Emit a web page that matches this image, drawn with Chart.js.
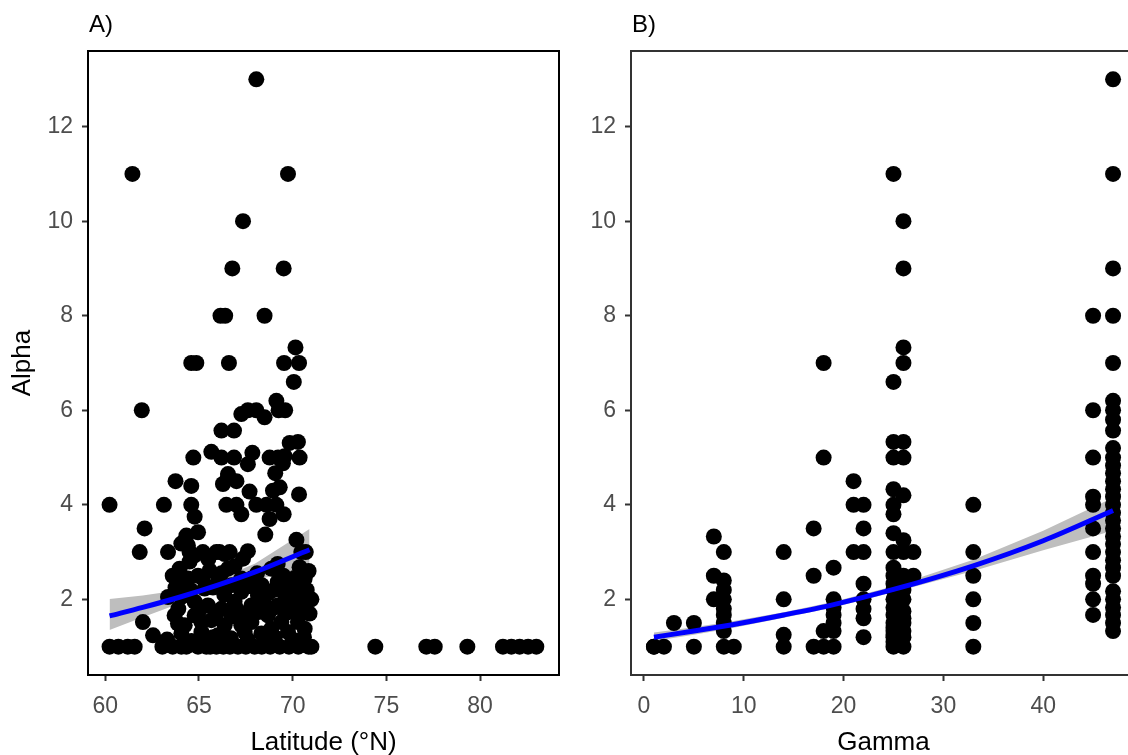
<!DOCTYPE html>
<html lang="en">
<head>
  <meta charset="UTF-8" />
  <title>Alpha vs Latitude and Gamma</title>
  <script src="https://cdn.jsdelivr.net/npm/chart.js"></script>
  <style>
    html, body { margin: 0; padding: 0; background: #fff; overflow: hidden; }
    body { width: 1128px; height: 755px; position: relative; }
    .panel { position: absolute; top: 0; }
    #panelA { left: 0; }
    #panelB { left: 570px; }
  </style>
</head>
<body>
  <canvas id="panelA" class="panel" width="570" height="760"></canvas>
  <canvas id="panelB" class="panel" width="590" height="760"></canvas>

  <script>
    // ---- data ----
    const alphaTicks = [2, 4, 6, 8, 10, 12];
    const latTicks = [60, 65, 70, 75, 80];
    const gammaTicks = [0, 10, 20, 30, 40];

    // panel A: [latitude, alpha]
    const latAlpha = [
      [68.06,13],[61.45,11],[69.75,11],[67.35,10],[66.78,9],[69.52,9],[66.15,8],[66.4,8],[68.5,8],[70.15,7.33],
      [64.59,7],[64.86,7],[66.6,7],[69.54,7],[70.34,7],[70.06,6.6],
      [61.95,6],[69.13,6.2],[69.25,6],[69.6,6],[67.26,5.92],[67.61,6],[68.06,6],[68.5,5.85],
      [66.2,5.57],[66.87,5.57],[69.84,5.31],[70.28,5.33],[65.66,5.12],[64.7,5],[66.2,5],[66.87,5],
      [67.85,5.1],[67.61,4.86],[68.77,5],[69.22,5],[69.57,5.03],[70.37,5],
      [69.48,4.88],[69.07,4.67],[66.55,4.65],[63.75,4.5],[64.59,4.4],[66.28,4.44],[66.55,4.6],[67.0,4.5],
      [67.7,4.28],[68.95,4.3],[69.31,4.37],[70.34,4.22],
      [60.23,4],[63.13,4],[64.59,4],[66.46,4],[67.0,4],[68.06,4],[68.6,4],[69.13,4],
      [67.26,3.8],[68.77,3.7],[69.52,3.8],[64.77,3.75],[62.1,3.5],[64.95,3.42],[64.33,3.35],[68.54,3.37],
      [64.06,3.18],[70.2,3.26],
      [61.84,3],[63.35,3],[64.5,3],[65.21,3],[65.93,3],[66.1,3],[66.64,3],[67.61,3.02],[67.35,2.86],
      [70.7,3],[70.46,3],[64.77,2.93],[66.37,2.96],[64.41,3.14],
      [62.01,1.52],[62.55,1.24],
      [60.23,1],[60.7,1],[61.2,1],[61.57,1],[63.05,1],[63.6,1],[64.06,1],[64.33,1],[64.95,1],[65.39,1],
      [65.93,1],[66.3,1],[67.08,1],[67.97,1],[68.8,1],[69.31,1],[69.8,1],[70.3,1],[70.85,1],
      [65.6,1],[66.65,1],[67.5,1],[68.35,1],
      [74.41,1],[77.13,1],[77.58,1],[79.32,1],[81.22,1],[81.67,1],[82.11,1],[82.56,1],[83.0,1],
      [63.97,2.65],[64.41,2.44],[65.57,2.61],[66.55,2.65],[68.86,2.65],[70.37,2.68],[70.64,2.44],
      [70.28,2.19],[70.64,1.98],[63.35,2.05],[64.06,2.05],[69.57,2.12],[68.68,2.12],[68.15,2.08],
      [67.26,2.16],[67.44,2.26],
      [63.88,1.49],[64.24,1.45],[64.77,1.66],[65.66,1.56],[66.73,1.63],[67.26,1.45],[68.15,1.73],
      [68.68,1.66],[69.4,1.52],[70.1,1.73],[69.75,1.31],[70.64,1.38],[68.33,1.28],[67.44,1.31],
      [66.01,1.24],[65.13,1.31],[64.06,1.28],
      [64.24,2.37],[64.95,2.5],[65.3,2.23],[66.01,2.37],[64.77,1.95],[65.48,1.87],[66.2,1.8],[66.9,1.95],
      [67.8,1.87],[68.5,1.87],[69.2,1.87],[69.93,1.95],[71.0,2.0],[65.13,1.52],[66.37,1.45],[67.8,1.52],
      [68.86,1.38],[70.28,1.52],[63.7,1.66],[66.73,2.3],[67.8,2.44],[69.2,2.37],[67.26,2.44],
      [63.3,1.15],[64.6,1.12],[65.2,1.15],[65.75,1.2],[66.7,1.18],[67.6,1.15],[68.55,1.12],[69.05,1.2],
      [70.0,1.15],[70.6,1.2],
      [63.9,1.8],[65.0,1.75],[65.9,1.67],[67.0,1.8],[67.45,1.67],[68.9,1.8],[69.6,1.7],[70.5,1.8],
      [63.75,2.25],[64.55,2.2],[65.75,2.25],[66.35,2.1],[67.95,2.25],[68.35,2.3],[69.0,2.2],[69.9,2.3],[70.75,2.2],
      [63.6,2.5],[65.2,2.45],[66.2,2.55],[68.1,2.55],[69.5,2.5],[70.1,2.45],
      [64.5,2.8],[65.5,2.85],[66.9,2.7],[69.2,2.75],[70.85,2.6],[70.9,1.7],[71.0,1.0]
    ];

    // panel A fitted curve and its confidence band
    const fitLat = [60.23, 62, 64, 66, 68, 70.9];
    const fitLatMid = [1.65, 1.83, 2.05, 2.30, 2.58, 3.05];
    const fitLatLow = [1.35, 1.62, 1.92, 2.20, 2.42, 2.65];
    const fitLatHigh = [2.01, 2.08, 2.20, 2.42, 2.76, 3.49];

    // panel B: alpha values at each gamma level
    const gammaLevels = [1, 2, 3, 5, 7, 8, 9, 14, 17, 18, 19, 21, 22, 25, 26, 27, 33, 45, 47];
    const alphaAtGamma = [
      [1, 1],
      [1],
      [1.5],
      [1.5, 1],
      [3.33, 2.5, 2],
      [3, 2.4, 2.2, 2, 1.8, 1.67, 1.5, 1.33, 1],
      [1],
      [3, 2, 1.25, 1],
      [3.5, 2.5, 1],
      [7, 5, 1.33, 1],
      [2.67, 2, 1.83, 1.67, 1.5, 1.33, 1],
      [4.5, 4, 3],
      [4, 3.5, 3, 2.33, 2, 1.8, 1.6, 1.2],
      [11, 6.6, 5.33, 5, 4.33, 4, 3.8, 3.4, 3, 2.67, 2.5, 2.33, 2.2, 2, 1.83, 1.67, 1.5, 1.4, 1.33, 1.25, 1.2, 1.1, 1],
      [10, 9, 7.33, 7, 5.33, 5, 4.2, 3.25, 3, 2.5, 2.33, 2.2, 2, 1.75, 1.6, 1.5, 1.33, 1.2, 1],
      [3, 2.5],
      [4, 3, 2.5, 2, 1.5, 1],
      [8, 6, 5, 4.17, 4, 3.5, 3, 2.5, 2.33, 2, 1.67],
      [13, 11, 9, 8, 7, 6.2, 6, 5.8, 5.57, 5.2, 5, 4.83, 4.67, 4.5, 4.33, 4.17, 4, 3.83, 3.67, 3.5,
       3.33, 3.17, 3, 2.83, 2.67, 2.5, 2.17, 2, 1.83, 1.67, 1.5, 1.33]
    ];

    // panel B fitted curve and its confidence band
    const fitGamma = [1, 5, 9, 14, 19, 25, 33, 40, 47];
    const fitGammaMid = [1.2, 1.33, 1.47, 1.67, 1.89, 2.21, 2.71, 3.24, 3.88];
    const fitGammaLow = [1.12, 1.25, 1.4, 1.61, 1.83, 2.15, 2.6, 3.04, 3.45];
    const fitGammaHigh = [1.3, 1.41, 1.54, 1.73, 1.95, 2.28, 2.84, 3.45, 4.15];

    // ---- drawing ----
    const FONT = '"Liberation Sans", Arial, Helvetica, sans-serif';
    const toXY = (xs, ys) => xs.map((x, i) => ({ x: x, y: ys[i] }));

    // panel border plus the "A)" / "B)" tag
    const panelFrame = {
      id: 'panelFrame',
      afterDatasetsDraw(chart, args, opts) {
        const { ctx, chartArea: a } = chart;
        ctx.save();
        ctx.strokeStyle = opts.color;
        ctx.lineWidth = 2;
        ctx.strokeRect(a.left, a.top, a.right - a.left, a.bottom - a.top);
        ctx.restore();
      },
      afterDraw(chart, args, opts) {
        const { ctx, chartArea: a } = chart;
        ctx.save();
        ctx.font = '24px ' + FONT;
        ctx.fillStyle = '#000';
        ctx.textBaseline = 'alphabetic';
        ctx.textAlign = 'left';
        ctx.fillText(opts.tag, a.left + 1, 31.5);
        ctx.restore();
      }
    };

    function makePanel(id, p) {
      const ctx = document.getElementById(id).getContext('2d');
      return new Chart(ctx, {
        type: 'scatter',
        data: {
          datasets: [
            { type: 'line', data: toXY(p.fitX, p.low), borderWidth: 0, pointRadius: 0, fill: false, order: 3 },
            { type: 'line', data: toXY(p.fitX, p.high), borderWidth: 0, pointRadius: 0,
              fill: '-1', backgroundColor: '#bebebe', order: 3 },
            { data: p.points, pointRadius: 8, backgroundColor: '#000', borderWidth: 0, order: 2 },
            { type: 'line', data: toXY(p.fitX, p.mid), borderColor: '#0000ff', borderWidth: 5,
              pointRadius: 0, fill: false, cubicInterpolationMode: 'monotone', order: 1 }
          ]
        },
        options: {
          responsive: false,
          animation: false,
          events: [],
          layout: { padding: { top: 51, right: p.padRight, bottom: 0, left: 0 } },
          plugins: {
            legend: { display: false },
            tooltip: { enabled: false },
            panelFrame: { color: p.frame, tag: p.tag }
          },
          scales: {
            x: {
              type: 'linear',
              min: p.xMin,
              max: p.xMax,
              afterBuildTicks: s => { s.ticks = p.xTicks.map(v => ({ value: v })); },
              afterFit: s => { s.height = 85; },
              grid: { drawOnChartArea: false, tickLength: 6, tickColor: '#333333', tickWidth: 2 },
              border: { display: false },
              ticks: { color: '#4d4d4d', padding: 12, font: { family: FONT, size: 23 }, maxRotation: 0 },
              title: { display: true, text: p.xTitle, color: '#000',
                       font: { family: FONT, size: 26 }, padding: { top: 0, bottom: 2 } }
            },
            y: {
              type: 'linear',
              min: 0.4,
              max: 13.6,
              afterBuildTicks: s => { s.ticks = alphaTicks.map(v => ({ value: v })); },
              afterFit: s => { s.width = p.yWidth; },
              grid: { drawOnChartArea: false, tickLength: 6, tickColor: '#333333', tickWidth: 2 },
              border: { display: false },
              ticks: { color: '#4d4d4d', padding: 9, font: { family: FONT, size: 23 } },
              title: { display: p.yTitle !== '', text: p.yTitle, color: '#000',
                       font: { family: FONT, size: 26 }, padding: { top: 7, bottom: 0 } }
            }
          }
        },
        plugins: [panelFrame]
      });
    }

    makePanel('panelA', {
      points: latAlpha.map(d => ({ x: d[0], y: d[1] })),
      fitX: fitLat, mid: fitLatMid, low: fitLatLow, high: fitLatHigh,
      xMin: 59.08, xMax: 84.21, xTicks: latTicks,
      xTitle: 'Latitude (°N)', yTitle: 'Alpha',
      yWidth: 88, padRight: 11, frame: '#000000', tag: 'A)'
    });

    const gammaPoints = [];
    gammaLevels.forEach((g, i) => {
      alphaAtGamma[i].forEach(a => gammaPoints.push({ x: g, y: a }));
    });

    makePanel('panelB', {
      points: gammaPoints,
      fitX: fitGamma, mid: fitGammaMid, low: fitGammaLow, high: fitGammaHigh,
      xMin: -1.3, xMax: 49.3, xTicks: gammaTicks,
      xTitle: 'Gamma', yTitle: '',
      yWidth: 61, padRight: 24, frame: '#333333', tag: 'B)'
    });
  </script>
</body>
</html>
